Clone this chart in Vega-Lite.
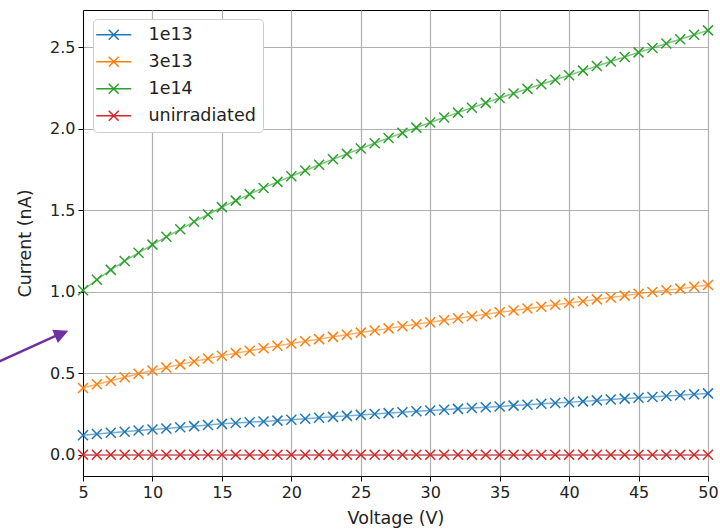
{
  "$schema": "https://vega.github.io/schema/vega-lite/v6.json",
  "width": 625,
  "height": 466,
  "autosize": "none",
  "padding": {"left": 83, "top": 10, "right": 12, "bottom": 55},
  "background": "white",
  "layer": [
    {
      "data": {
        "values": [
          {"V": 5, "1e13": 0.120, "3e13": 0.410, "1e14": 1.010, "unirradiated": 0},
          {"V": 6, "1e13": 0.128, "3e13": 0.433, "1e14": 1.075, "unirradiated": 0},
          {"V": 7, "1e13": 0.135, "3e13": 0.455, "1e14": 1.135, "unirradiated": 0},
          {"V": 8, "1e13": 0.142, "3e13": 0.476, "1e14": 1.190, "unirradiated": 0},
          {"V": 9, "1e13": 0.149, "3e13": 0.497, "1e14": 1.240, "unirradiated": 0},
          {"V": 10, "1e13": 0.155, "3e13": 0.517, "1e14": 1.290, "unirradiated": 0},
          {"V": 11, "1e13": 0.162, "3e13": 0.536, "1e14": 1.338, "unirradiated": 0},
          {"V": 12, "1e13": 0.169, "3e13": 0.555, "1e14": 1.384, "unirradiated": 0},
          {"V": 13, "1e13": 0.176, "3e13": 0.573, "1e14": 1.430, "unirradiated": 0},
          {"V": 14, "1e13": 0.183, "3e13": 0.591, "1e14": 1.475, "unirradiated": 0},
          {"V": 15, "1e13": 0.190, "3e13": 0.608, "1e14": 1.520, "unirradiated": 0},
          {"V": 16, "1e13": 0.195, "3e13": 0.624, "1e14": 1.560, "unirradiated": 0},
          {"V": 17, "1e13": 0.200, "3e13": 0.639, "1e14": 1.600, "unirradiated": 0},
          {"V": 18, "1e13": 0.205, "3e13": 0.654, "1e14": 1.638, "unirradiated": 0},
          {"V": 19, "1e13": 0.210, "3e13": 0.669, "1e14": 1.675, "unirradiated": 0},
          {"V": 20, "1e13": 0.215, "3e13": 0.683, "1e14": 1.710, "unirradiated": 0},
          {"V": 21, "1e13": 0.221, "3e13": 0.697, "1e14": 1.745, "unirradiated": 0},
          {"V": 22, "1e13": 0.227, "3e13": 0.710, "1e14": 1.780, "unirradiated": 0},
          {"V": 23, "1e13": 0.233, "3e13": 0.724, "1e14": 1.814, "unirradiated": 0},
          {"V": 24, "1e13": 0.239, "3e13": 0.737, "1e14": 1.847, "unirradiated": 0},
          {"V": 25, "1e13": 0.245, "3e13": 0.750, "1e14": 1.880, "unirradiated": 0},
          {"V": 26, "1e13": 0.250, "3e13": 0.763, "1e14": 1.912, "unirradiated": 0},
          {"V": 27, "1e13": 0.256, "3e13": 0.776, "1e14": 1.944, "unirradiated": 0},
          {"V": 28, "1e13": 0.261, "3e13": 0.789, "1e14": 1.976, "unirradiated": 0},
          {"V": 29, "1e13": 0.267, "3e13": 0.801, "1e14": 2.008, "unirradiated": 0},
          {"V": 30, "1e13": 0.272, "3e13": 0.814, "1e14": 2.040, "unirradiated": 0},
          {"V": 31, "1e13": 0.277, "3e13": 0.826, "1e14": 2.070, "unirradiated": 0},
          {"V": 32, "1e13": 0.282, "3e13": 0.838, "1e14": 2.100, "unirradiated": 0},
          {"V": 33, "1e13": 0.287, "3e13": 0.851, "1e14": 2.130, "unirradiated": 0},
          {"V": 34, "1e13": 0.292, "3e13": 0.863, "1e14": 2.160, "unirradiated": 0},
          {"V": 35, "1e13": 0.297, "3e13": 0.875, "1e14": 2.190, "unirradiated": 0},
          {"V": 36, "1e13": 0.302, "3e13": 0.886, "1e14": 2.218, "unirradiated": 0},
          {"V": 37, "1e13": 0.307, "3e13": 0.898, "1e14": 2.246, "unirradiated": 0},
          {"V": 38, "1e13": 0.313, "3e13": 0.909, "1e14": 2.274, "unirradiated": 0},
          {"V": 39, "1e13": 0.318, "3e13": 0.921, "1e14": 2.302, "unirradiated": 0},
          {"V": 40, "1e13": 0.323, "3e13": 0.932, "1e14": 2.330, "unirradiated": 0},
          {"V": 41, "1e13": 0.328, "3e13": 0.943, "1e14": 2.358, "unirradiated": 0},
          {"V": 42, "1e13": 0.334, "3e13": 0.954, "1e14": 2.386, "unirradiated": 0},
          {"V": 43, "1e13": 0.339, "3e13": 0.966, "1e14": 2.414, "unirradiated": 0},
          {"V": 44, "1e13": 0.345, "3e13": 0.977, "1e14": 2.442, "unirradiated": 0},
          {"V": 45, "1e13": 0.350, "3e13": 0.988, "1e14": 2.470, "unirradiated": 0},
          {"V": 46, "1e13": 0.355, "3e13": 0.999, "1e14": 2.497, "unirradiated": 0},
          {"V": 47, "1e13": 0.361, "3e13": 1.010, "1e14": 2.524, "unirradiated": 0},
          {"V": 48, "1e13": 0.366, "3e13": 1.020, "1e14": 2.551, "unirradiated": 0},
          {"V": 49, "1e13": 0.372, "3e13": 1.031, "1e14": 2.578, "unirradiated": 0},
          {"V": 50, "1e13": 0.377, "3e13": 1.042, "1e14": 2.605, "unirradiated": 0}
        ]
      },
      "transform": [
        {"fold": ["1e13", "3e13", "1e14", "unirradiated"], "as": ["series", "I"]}
      ],
      "encoding": {
        "x": {
          "field": "V",
          "type": "quantitative",
          "scale": {"domain": [5, 50], "nice": false, "zero": false},
          "axis": {
            "title": "Voltage (V)",
            "values": [5, 10, 15, 20, 25, 30, 35, 40, 45, 50],
            "labelFlush": false,
            "labelOverlap": false,
            "titlePadding": 9
          }
        },
        "y": {
          "field": "I",
          "type": "quantitative",
          "scale": {"domain": [-0.13, 2.73], "nice": false, "zero": false},
          "axis": {
            "title": "Current (nA)",
            "values": [0, 0.5, 1, 1.5, 2, 2.5],
            "format": ".1f",
            "labelFlush": false,
            "labelOverlap": false,
            "titlePadding": 15
          }
        },
        "color": {
          "field": "series",
          "type": "nominal",
          "scale": {
            "domain": ["1e13", "3e13", "1e14", "unirradiated"],
            "range": ["#1f77b4", "#ff7f0e", "#2ca02c", "#d62728"]
          },
          "legend": {
            "title": null,
            "orient": "none",
            "legendX": 10,
            "legendY": 9,
            "fillColor": "white",
            "strokeColor": "#cccccc",
            "cornerRadius": 4,
            "padding": 7,
            "symbolType": "M-3.5,0L3.5,0M-1,-1L1,1M-1,1L1,-1",
            "symbolSize": 100,
            "symbolOffset": 5,
            "symbolStrokeWidth": 1.5,
            "symbolFillColor": "transparent",
            "symbolOpacity": 1,
            "labelOffset": 26,
            "labelFont": "DejaVu Sans",
            "labelFontSize": 17.5,
            "labelColor": "#222222",
            "rowPadding": 8
          }
        }
      },
      "layer": [
        {"mark": {"type": "line", "strokeWidth": 1.5, "opacity": 0.6}},
        {
          "mark": {
            "type": "point",
            "shape": "M-1,-1L1,1M-1,1L1,-1",
            "filled": false,
            "size": 100,
            "strokeWidth": 1.5,
            "opacity": 1
          }
        }
      ]
    },
    {
      "data": {"values": [{"V": -1.3, "I": 0.562, "V2": 3.35, "I2": 0.742}]},
      "mark": {"type": "rule", "color": "#7030a0", "strokeWidth": 2.5, "clip": false},
      "encoding": {
        "x": {"field": "V", "type": "quantitative"},
        "y": {"field": "I", "type": "quantitative"},
        "x2": {"field": "V2"},
        "y2": {"field": "I2"}
      }
    },
    {
      "data": {"values": [{"V": 3.94, "I": 0.761, "dir": -23}]},
      "mark": {
        "type": "point",
        "shape": "M0,0L-2,-1L-2,1Z",
        "filled": true,
        "color": "#7030a0",
        "size": 207,
        "opacity": 1,
        "clip": false,
        "strokeWidth": 0
      },
      "encoding": {
        "x": {"field": "V", "type": "quantitative"},
        "y": {"field": "I", "type": "quantitative"},
        "angle": {"field": "dir", "type": "quantitative", "scale": null}
      }
    }
  ],
  "config": {
    "view": {"stroke": "black", "strokeWidth": 1},
    "axis": {
      "domainColor": "black",
      "tickColor": "black",
      "tickSize": 5,
      "labelFont": "DejaVu Sans",
      "labelFontSize": 16,
      "labelColor": "#222222",
      "labelPadding": 3,
      "titleFont": "DejaVu Sans",
      "titleFontSize": 17.5,
      "titleFontWeight": "normal",
      "titleColor": "#222222",
      "gridColor": "#b0b0b0",
      "gridWidth": 1.2
    }
  }
}
